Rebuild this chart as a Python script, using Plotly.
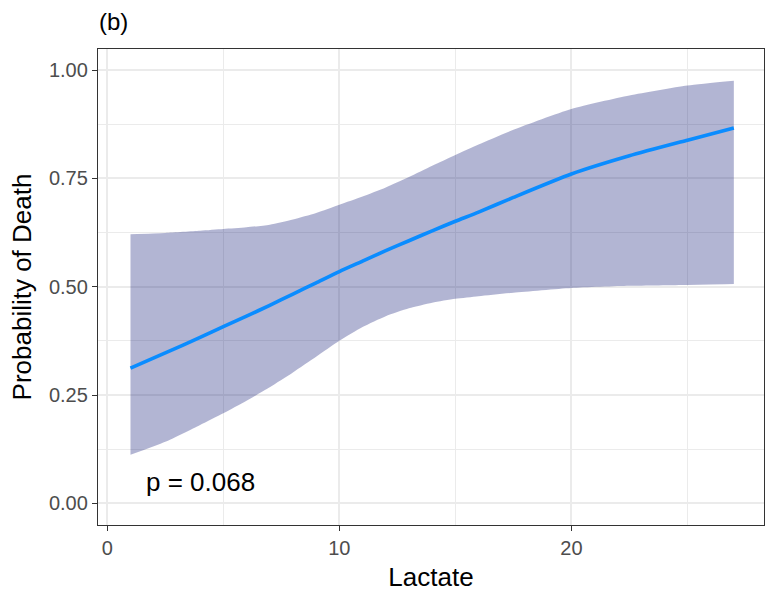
import plotly.graph_objects as go

# Fitted probability of death vs. lactate, with 95% confidence band
lactate = [1, 2.5, 4, 5, 6, 7, 8, 9, 10, 11, 12, 13, 14, 15, 16, 17.5, 20, 22.5, 25, 27]
prob_fit = [0.312, 0.347, 0.383, 0.408, 0.432, 0.457, 0.483, 0.509, 0.535, 0.559,
            0.583, 0.606, 0.629, 0.651, 0.672, 0.706, 0.760, 0.802, 0.838, 0.866]
prob_upper = [0.621, 0.624, 0.629, 0.633, 0.637, 0.643, 0.655, 0.670, 0.689, 0.708,
              0.729, 0.753, 0.779, 0.804, 0.828, 0.862, 0.910, 0.941, 0.964, 0.975]
prob_lower = [0.112, 0.142, 0.181, 0.208, 0.237, 0.268, 0.302, 0.338, 0.375, 0.407,
              0.432, 0.450, 0.463, 0.472, 0.478, 0.486, 0.497, 0.502, 0.504, 0.506]

x_ticks = [0, 10, 20]
y_ticks = [0.0, 0.25, 0.5, 0.75, 1.0]
y_tick_text = ["0.00", "0.25", "0.50", "0.75", "1.00"]

p_label = "p = 0.068"

FONT = "Liberation Sans, Arial, sans-serif"
GRID = "#EBEBEB"
AXIS = "#333333"

fig = go.Figure()

fig.add_trace(go.Scatter(
    x=lactate, y=prob_lower, mode="lines", line=dict(width=0, shape="spline", smoothing=0.6),
    hoverinfo="skip", showlegend=False,
))
fig.add_trace(go.Scatter(
    x=lactate, y=prob_upper, mode="lines", line=dict(width=0, shape="spline", smoothing=0.6),
    fill="tonexty", fillcolor="rgba(0,10,110,0.30)",
    hoverinfo="skip", showlegend=False,
))
fig.add_trace(go.Scatter(
    x=lactate, y=prob_fit, mode="lines",
    line=dict(color="#0A8CFF", width=3.6, shape="spline", smoothing=0.6),
    showlegend=False,
))

fig.add_annotation(
    x=4, y=0.05, xref="x", yref="y", text=p_label, showarrow=False,
    font=dict(family=FONT, size=26, color="black"),
)
fig.add_annotation(
    x=0, y=1, xref="paper", yref="paper", text="(b)", showarrow=False,
    font=dict(family=FONT, size=24, color="black"),
    xanchor="left", yanchor="middle",
)

axis_common = dict(
    showline=True, linecolor=AXIS, linewidth=1.3, mirror=True,
    ticks="outside", ticklen=5, tickwidth=1.3, tickcolor=AXIS,
    gridcolor=GRID, gridwidth=1.5, zeroline=False,
    tickfont=dict(family=FONT, size=20, color="#4D4D4D"),
)

fig.update_xaxes(
    range=[-0.4, 28.3], tickvals=x_ticks,
    minor=dict(dtick=5, tick0=0, showgrid=True, gridcolor=GRID, gridwidth=1, ticks=""),
    title=dict(text="Lactate", font=dict(family=FONT, size=26, color="black"), standoff=9),
    **axis_common,
)
fig.update_yaxes(
    range=[-0.05, 1.0485], tickvals=y_ticks, ticktext=y_tick_text,
    minor=dict(dtick=0.125, tick0=0, showgrid=True, gridcolor=GRID, gridwidth=1, ticks=""),
    title=dict(text="Probability of Death", font=dict(family=FONT, size=26, color="black"), standoff=9),
    **axis_common,
)

fig.update_layout(
    width=771, height=595,
    margin=dict(l=98, r=7, t=49, b=70),
    plot_bgcolor="white", paper_bgcolor="white",
)

# "(b)" is positioned in pixels; convert to paper coordinates
ann = fig.layout.annotations[1]
pw = 771 - 98 - 7
ph = 595 - 49 - 70
ann.x = (97 - 98) / pw
ann.y = 1 + (49 - 22) / ph

fig.write_html("out.html")
